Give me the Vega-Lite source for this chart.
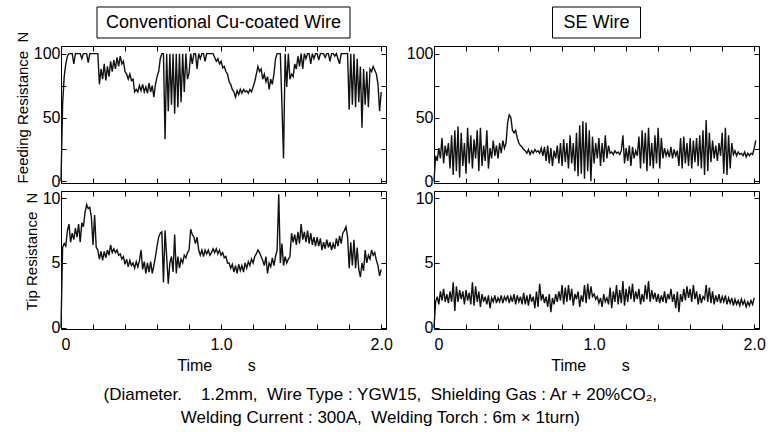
{
  "$schema": "https://vega.github.io/schema/vega-lite/v6.json",
  "padding": {"left": 14, "right": 8, "top": 6, "bottom": 4},
  "background": "white",
  "config": {
    "font": "Liberation Sans",
    "view": {"stroke": "black", "strokeWidth": 1},
    "axis": {
      "grid": false, "domain": false, "tickSize": -5, "tickColor": "black", "tickWidth": 1,
      "labelColor": "black", "labelFontSize": 16, "labelPadding": 6, "labelFont": "Liberation Sans",
      "titleColor": "black", "titleFontSize": 15, "titleFontWeight": "normal", "titleFont": "Liberation Sans", "titlePadding": 3
    }
  },
  "title": {
    "text": ["(Diameter.\u00a0\u00a0\u00a0 1.2mm,\u00a0 Wire Type : YGW15,\u00a0 Shielding Gas : Ar + 20%CO₂,", "Welding Current : 300A,\u00a0 Welding Torch : 6m × 1turn)"],
    "orient": "bottom", "anchor": "middle", "fontSize": 17, "fontWeight": "normal", "color": "black",
    "font": "Liberation Sans", "lineHeight": 23, "offset": 13, "dx": -10
  },
  "datasets": {
    "tl": [{"t":0,"v":0},{"t":0.01,"v":60},{"t":0.02,"v":82},{"t":0.03,"v":92},{"t":0.04,"v":98},{"t":0.05,"v":100},{"t":0.06,"v":100},{"t":0.07,"v":100},{"t":0.08,"v":92},{"t":0.09,"v":100},{"t":0.1,"v":100},{"t":0.11,"v":100},{"t":0.12,"v":100},{"t":0.13,"v":96},{"t":0.14,"v":100},{"t":0.15,"v":100},{"t":0.16,"v":100},{"t":0.17,"v":93},{"t":0.18,"v":100},{"t":0.19,"v":100},{"t":0.2,"v":100},{"t":0.21,"v":100},{"t":0.22,"v":100},{"t":0.23,"v":100},{"t":0.24,"v":76},{"t":0.25,"v":88},{"t":0.26,"v":80},{"t":0.27,"v":92},{"t":0.28,"v":79},{"t":0.29,"v":90},{"t":0.3,"v":82},{"t":0.31,"v":94},{"t":0.32,"v":86},{"t":0.33,"v":95},{"t":0.34,"v":88},{"t":0.35,"v":97},{"t":0.36,"v":90},{"t":0.37,"v":98},{"t":0.38,"v":92},{"t":0.39,"v":94},{"t":0.4,"v":86},{"t":0.41,"v":84},{"t":0.42,"v":80},{"t":0.43,"v":84},{"t":0.44,"v":79},{"t":0.45,"v":80},{"t":0.46,"v":70},{"t":0.47,"v":72},{"t":0.48,"v":70},{"t":0.49,"v":75},{"t":0.5,"v":71},{"t":0.51,"v":76},{"t":0.52,"v":70},{"t":0.53,"v":74},{"t":0.54,"v":69},{"t":0.55,"v":77},{"t":0.56,"v":70},{"t":0.57,"v":75},{"t":0.58,"v":66},{"t":0.59,"v":76},{"t":0.6,"v":82},{"t":0.61,"v":86},{"t":0.62,"v":96},{"t":0.63,"v":100},{"t":0.64,"v":100},{"t":0.65,"v":33},{"t":0.66,"v":100},{"t":0.67,"v":55},{"t":0.68,"v":100},{"t":0.69,"v":60},{"t":0.7,"v":100},{"t":0.71,"v":53},{"t":0.72,"v":100},{"t":0.73,"v":58},{"t":0.74,"v":100},{"t":0.75,"v":62},{"t":0.76,"v":100},{"t":0.77,"v":70},{"t":0.78,"v":100},{"t":0.79,"v":80},{"t":0.8,"v":85},{"t":0.81,"v":100},{"t":0.82,"v":92},{"t":0.83,"v":100},{"t":0.84,"v":100},{"t":0.85,"v":88},{"t":0.86,"v":100},{"t":0.87,"v":96},{"t":0.88,"v":100},{"t":0.89,"v":100},{"t":0.9,"v":94},{"t":0.91,"v":100},{"t":0.92,"v":100},{"t":0.93,"v":100},{"t":0.94,"v":100},{"t":0.95,"v":100},{"t":0.96,"v":97},{"t":0.97,"v":94},{"t":0.98,"v":96},{"t":0.99,"v":92},{"t":1,"v":94},{"t":1.01,"v":89},{"t":1.02,"v":90},{"t":1.03,"v":86},{"t":1.04,"v":84},{"t":1.05,"v":78},{"t":1.06,"v":76},{"t":1.07,"v":72},{"t":1.08,"v":70},{"t":1.09,"v":66},{"t":1.1,"v":71},{"t":1.11,"v":68},{"t":1.12,"v":72},{"t":1.13,"v":69},{"t":1.14,"v":72},{"t":1.15,"v":70},{"t":1.16,"v":71},{"t":1.17,"v":69},{"t":1.18,"v":72},{"t":1.19,"v":70},{"t":1.2,"v":74},{"t":1.21,"v":78},{"t":1.22,"v":84},{"t":1.23,"v":90},{"t":1.24,"v":86},{"t":1.25,"v":88},{"t":1.26,"v":80},{"t":1.27,"v":84},{"t":1.28,"v":78},{"t":1.29,"v":82},{"t":1.3,"v":72},{"t":1.31,"v":80},{"t":1.32,"v":76},{"t":1.33,"v":84},{"t":1.34,"v":96},{"t":1.35,"v":100},{"t":1.36,"v":100},{"t":1.37,"v":100},{"t":1.38,"v":60},{"t":1.39,"v":18},{"t":1.4,"v":100},{"t":1.41,"v":74},{"t":1.42,"v":100},{"t":1.43,"v":80},{"t":1.44,"v":84},{"t":1.45,"v":82},{"t":1.46,"v":92},{"t":1.47,"v":88},{"t":1.48,"v":98},{"t":1.49,"v":90},{"t":1.5,"v":100},{"t":1.51,"v":88},{"t":1.52,"v":100},{"t":1.53,"v":96},{"t":1.54,"v":100},{"t":1.55,"v":100},{"t":1.56,"v":92},{"t":1.57,"v":100},{"t":1.58,"v":96},{"t":1.59,"v":100},{"t":1.6,"v":100},{"t":1.61,"v":95},{"t":1.62,"v":100},{"t":1.63,"v":100},{"t":1.64,"v":100},{"t":1.65,"v":97},{"t":1.66,"v":100},{"t":1.67,"v":100},{"t":1.68,"v":94},{"t":1.69,"v":100},{"t":1.7,"v":100},{"t":1.71,"v":98},{"t":1.72,"v":100},{"t":1.73,"v":96},{"t":1.74,"v":92},{"t":1.75,"v":100},{"t":1.76,"v":100},{"t":1.77,"v":100},{"t":1.78,"v":100},{"t":1.79,"v":100},{"t":1.8,"v":56},{"t":1.81,"v":100},{"t":1.82,"v":60},{"t":1.83,"v":100},{"t":1.84,"v":58},{"t":1.85,"v":96},{"t":1.86,"v":62},{"t":1.87,"v":90},{"t":1.88,"v":42},{"t":1.89,"v":88},{"t":1.9,"v":60},{"t":1.91,"v":86},{"t":1.92,"v":58},{"t":1.93,"v":88},{"t":1.94,"v":86},{"t":1.95,"v":90},{"t":1.96,"v":87},{"t":1.97,"v":84},{"t":1.98,"v":76},{"t":1.99,"v":55},{"t":2,"v":70}],
    "tr": [{"t":0,"v":0},{"t":0.01,"v":20},{"t":0.02,"v":16},{"t":0.03,"v":26},{"t":0.04,"v":18},{"t":0.05,"v":34},{"t":0.06,"v":14},{"t":0.07,"v":28},{"t":0.08,"v":20},{"t":0.09,"v":30},{"t":0.1,"v":10},{"t":0.11,"v":36},{"t":0.12,"v":5},{"t":0.13,"v":40},{"t":0.14,"v":8},{"t":0.15,"v":43},{"t":0.16,"v":3},{"t":0.17,"v":38},{"t":0.18,"v":12},{"t":0.19,"v":30},{"t":0.2,"v":6},{"t":0.21,"v":42},{"t":0.22,"v":14},{"t":0.23,"v":36},{"t":0.24,"v":10},{"t":0.25,"v":33},{"t":0.26,"v":18},{"t":0.27,"v":40},{"t":0.28,"v":8},{"t":0.29,"v":42},{"t":0.3,"v":12},{"t":0.31,"v":28},{"t":0.32,"v":16},{"t":0.33,"v":40},{"t":0.34,"v":10},{"t":0.35,"v":26},{"t":0.36,"v":18},{"t":0.37,"v":32},{"t":0.38,"v":20},{"t":0.39,"v":28},{"t":0.4,"v":18},{"t":0.41,"v":30},{"t":0.42,"v":22},{"t":0.43,"v":32},{"t":0.44,"v":26},{"t":0.45,"v":30},{"t":0.46,"v":46},{"t":0.47,"v":52},{"t":0.48,"v":50},{"t":0.49,"v":40},{"t":0.5,"v":38},{"t":0.51,"v":40},{"t":0.52,"v":34},{"t":0.53,"v":30},{"t":0.54,"v":28},{"t":0.55,"v":27},{"t":0.56,"v":25},{"t":0.57,"v":24},{"t":0.58,"v":22},{"t":0.59,"v":25},{"t":0.6,"v":21},{"t":0.61,"v":24},{"t":0.62,"v":22},{"t":0.63,"v":25},{"t":0.64,"v":23},{"t":0.65,"v":24},{"t":0.66,"v":22},{"t":0.67,"v":26},{"t":0.68,"v":20},{"t":0.69,"v":27},{"t":0.7,"v":16},{"t":0.71,"v":28},{"t":0.72,"v":14},{"t":0.73,"v":26},{"t":0.74,"v":12},{"t":0.75,"v":24},{"t":0.76,"v":18},{"t":0.77,"v":28},{"t":0.78,"v":14},{"t":0.79,"v":30},{"t":0.8,"v":12},{"t":0.81,"v":33},{"t":0.82,"v":15},{"t":0.83,"v":30},{"t":0.84,"v":10},{"t":0.85,"v":36},{"t":0.86,"v":14},{"t":0.87,"v":30},{"t":0.88,"v":8},{"t":0.89,"v":38},{"t":0.9,"v":4},{"t":0.91,"v":44},{"t":0.92,"v":6},{"t":0.93,"v":47},{"t":0.94,"v":2},{"t":0.95,"v":46},{"t":0.96,"v":8},{"t":0.97,"v":40},{"t":0.98,"v":0},{"t":0.99,"v":35},{"t":1,"v":14},{"t":1.01,"v":30},{"t":1.02,"v":18},{"t":1.03,"v":34},{"t":1.04,"v":12},{"t":1.05,"v":30},{"t":1.06,"v":15},{"t":1.07,"v":36},{"t":1.08,"v":18},{"t":1.09,"v":28},{"t":1.1,"v":22},{"t":1.11,"v":23},{"t":1.12,"v":21},{"t":1.13,"v":24},{"t":1.14,"v":22},{"t":1.15,"v":23},{"t":1.16,"v":21},{"t":1.17,"v":24},{"t":1.18,"v":36},{"t":1.19,"v":14},{"t":1.2,"v":26},{"t":1.21,"v":16},{"t":1.22,"v":28},{"t":1.23,"v":12},{"t":1.24,"v":27},{"t":1.25,"v":18},{"t":1.26,"v":24},{"t":1.27,"v":20},{"t":1.28,"v":35},{"t":1.29,"v":10},{"t":1.3,"v":40},{"t":1.31,"v":14},{"t":1.32,"v":38},{"t":1.33,"v":8},{"t":1.34,"v":42},{"t":1.35,"v":12},{"t":1.36,"v":30},{"t":1.37,"v":10},{"t":1.38,"v":36},{"t":1.39,"v":14},{"t":1.4,"v":42},{"t":1.41,"v":10},{"t":1.42,"v":34},{"t":1.43,"v":18},{"t":1.44,"v":26},{"t":1.45,"v":20},{"t":1.46,"v":24},{"t":1.47,"v":19},{"t":1.48,"v":27},{"t":1.49,"v":18},{"t":1.5,"v":25},{"t":1.51,"v":20},{"t":1.52,"v":24},{"t":1.53,"v":12},{"t":1.54,"v":34},{"t":1.55,"v":10},{"t":1.56,"v":35},{"t":1.57,"v":14},{"t":1.58,"v":30},{"t":1.59,"v":12},{"t":1.6,"v":34},{"t":1.61,"v":10},{"t":1.62,"v":32},{"t":1.63,"v":15},{"t":1.64,"v":34},{"t":1.65,"v":12},{"t":1.66,"v":36},{"t":1.67,"v":10},{"t":1.68,"v":40},{"t":1.69,"v":5},{"t":1.7,"v":48},{"t":1.71,"v":8},{"t":1.72,"v":38},{"t":1.73,"v":15},{"t":1.74,"v":32},{"t":1.75,"v":18},{"t":1.76,"v":28},{"t":1.77,"v":16},{"t":1.78,"v":30},{"t":1.79,"v":20},{"t":1.8,"v":38},{"t":1.81,"v":6},{"t":1.82,"v":42},{"t":1.83,"v":5},{"t":1.84,"v":36},{"t":1.85,"v":10},{"t":1.86,"v":30},{"t":1.87,"v":21},{"t":1.88,"v":24},{"t":1.89,"v":20},{"t":1.9,"v":23},{"t":1.91,"v":21},{"t":1.92,"v":22},{"t":1.93,"v":20},{"t":1.94,"v":23},{"t":1.95,"v":19},{"t":1.96,"v":22},{"t":1.97,"v":20},{"t":1.98,"v":22},{"t":1.99,"v":21},{"t":2,"v":26},{"t":2.01,"v":32}],
    "bl": [{"t":0,"v":0},{"t":0.01,"v":6.2},{"t":0.02,"v":6.5},{"t":0.03,"v":6.3},{"t":0.04,"v":7.5},{"t":0.05,"v":8.0},{"t":0.06,"v":6.6},{"t":0.07,"v":7.3},{"t":0.08,"v":6.8},{"t":0.09,"v":7.7},{"t":0.1,"v":7.0},{"t":0.11,"v":8.0},{"t":0.12,"v":6.6},{"t":0.13,"v":8.1},{"t":0.14,"v":7.8},{"t":0.15,"v":8.9},{"t":0.16,"v":9.5},{"t":0.17,"v":9.2},{"t":0.18,"v":9.3},{"t":0.19,"v":8.5},{"t":0.2,"v":6.4},{"t":0.21,"v":8.7},{"t":0.22,"v":6.2},{"t":0.23,"v":6.0},{"t":0.24,"v":5.3},{"t":0.25,"v":5.9},{"t":0.26,"v":5.2},{"t":0.27,"v":5.9},{"t":0.28,"v":5.4},{"t":0.29,"v":6.0},{"t":0.3,"v":5.6},{"t":0.31,"v":6.4},{"t":0.32,"v":5.8},{"t":0.33,"v":6.1},{"t":0.34,"v":5.8},{"t":0.35,"v":6.0},{"t":0.36,"v":5.6},{"t":0.37,"v":5.7},{"t":0.38,"v":5.3},{"t":0.39,"v":5.5},{"t":0.4,"v":4.9},{"t":0.41,"v":5.3},{"t":0.42,"v":4.7},{"t":0.43,"v":5.2},{"t":0.44,"v":4.8},{"t":0.45,"v":5.0},{"t":0.46,"v":4.6},{"t":0.47,"v":5.1},{"t":0.48,"v":4.7},{"t":0.49,"v":5.2},{"t":0.5,"v":6.0},{"t":0.51,"v":4.5},{"t":0.52,"v":5.1},{"t":0.53,"v":4.2},{"t":0.54,"v":5.0},{"t":0.55,"v":4.3},{"t":0.56,"v":5.1},{"t":0.57,"v":4.2},{"t":0.58,"v":4.8},{"t":0.59,"v":5.5},{"t":0.6,"v":6.3},{"t":0.61,"v":7.0},{"t":0.62,"v":7.3},{"t":0.63,"v":7.4},{"t":0.64,"v":3.5},{"t":0.65,"v":7.5},{"t":0.66,"v":5.5},{"t":0.67,"v":3.4},{"t":0.68,"v":5.0},{"t":0.69,"v":5.5},{"t":0.7,"v":4.3},{"t":0.71,"v":7.2},{"t":0.72,"v":4.2},{"t":0.73,"v":5.5},{"t":0.74,"v":4.6},{"t":0.75,"v":5.3},{"t":0.76,"v":5.0},{"t":0.77,"v":5.6},{"t":0.78,"v":5.4},{"t":0.79,"v":5.8},{"t":0.8,"v":6.0},{"t":0.81,"v":7.6},{"t":0.82,"v":7.2},{"t":0.83,"v":7.0},{"t":0.84,"v":6.5},{"t":0.85,"v":7.0},{"t":0.86,"v":6.0},{"t":0.87,"v":5.6},{"t":0.88,"v":6.0},{"t":0.89,"v":5.5},{"t":0.9,"v":6.0},{"t":0.91,"v":5.7},{"t":0.92,"v":6.0},{"t":0.93,"v":5.6},{"t":0.94,"v":5.8},{"t":0.95,"v":6.1},{"t":0.96,"v":5.8},{"t":0.97,"v":6.1},{"t":0.98,"v":5.7},{"t":0.99,"v":6.0},{"t":1,"v":5.6},{"t":1.01,"v":5.8},{"t":1.02,"v":5.4},{"t":1.03,"v":5.5},{"t":1.04,"v":5.0},{"t":1.05,"v":5.0},{"t":1.06,"v":4.6},{"t":1.07,"v":4.9},{"t":1.08,"v":4.3},{"t":1.09,"v":4.8},{"t":1.1,"v":4.2},{"t":1.11,"v":4.9},{"t":1.12,"v":4.4},{"t":1.13,"v":4.8},{"t":1.14,"v":4.3},{"t":1.15,"v":5.0},{"t":1.16,"v":4.6},{"t":1.17,"v":5.1},{"t":1.18,"v":4.8},{"t":1.19,"v":5.3},{"t":1.2,"v":5.0},{"t":1.21,"v":5.5},{"t":1.22,"v":5.7},{"t":1.23,"v":6.0},{"t":1.24,"v":5.8},{"t":1.25,"v":5.5},{"t":1.26,"v":5.2},{"t":1.27,"v":4.8},{"t":1.28,"v":5.5},{"t":1.29,"v":4.2},{"t":1.3,"v":5.0},{"t":1.31,"v":4.7},{"t":1.32,"v":5.4},{"t":1.33,"v":4.8},{"t":1.34,"v":5.5},{"t":1.35,"v":6.0},{"t":1.36,"v":10.3},{"t":1.37,"v":5.0},{"t":1.38,"v":6.5},{"t":1.39,"v":4.8},{"t":1.4,"v":5.5},{"t":1.41,"v":5.0},{"t":1.42,"v":5.3},{"t":1.43,"v":5.5},{"t":1.44,"v":7.3},{"t":1.45,"v":6.6},{"t":1.46,"v":7.2},{"t":1.47,"v":6.4},{"t":1.48,"v":7.4},{"t":1.49,"v":6.5},{"t":1.5,"v":8.0},{"t":1.51,"v":6.8},{"t":1.52,"v":7.4},{"t":1.53,"v":6.6},{"t":1.54,"v":7.5},{"t":1.55,"v":6.5},{"t":1.56,"v":7.3},{"t":1.57,"v":6.4},{"t":1.58,"v":7.0},{"t":1.59,"v":6.3},{"t":1.6,"v":7.0},{"t":1.61,"v":6.3},{"t":1.62,"v":6.9},{"t":1.63,"v":6.0},{"t":1.64,"v":6.6},{"t":1.65,"v":6.1},{"t":1.66,"v":6.8},{"t":1.67,"v":6.2},{"t":1.68,"v":6.6},{"t":1.69,"v":6.0},{"t":1.7,"v":6.5},{"t":1.71,"v":6.1},{"t":1.72,"v":6.9},{"t":1.73,"v":6.3},{"t":1.74,"v":7.1},{"t":1.75,"v":6.5},{"t":1.76,"v":7.3},{"t":1.77,"v":7.5},{"t":1.78,"v":7.8},{"t":1.79,"v":7.0},{"t":1.8,"v":4.6},{"t":1.81,"v":6.6},{"t":1.82,"v":4.8},{"t":1.83,"v":6.8},{"t":1.84,"v":4.6},{"t":1.85,"v":6.2},{"t":1.86,"v":4.5},{"t":1.87,"v":3.9},{"t":1.88,"v":5.0},{"t":1.89,"v":4.4},{"t":1.9,"v":6.0},{"t":1.91,"v":5.0},{"t":1.92,"v":5.6},{"t":1.93,"v":5.3},{"t":1.94,"v":6.0},{"t":1.95,"v":5.6},{"t":1.96,"v":5.8},{"t":1.97,"v":5.2},{"t":1.98,"v":4.8},{"t":1.99,"v":4.0},{"t":2,"v":4.5}],
    "br": [{"t":0,"v":0},{"t":0.01,"v":2.0},{"t":0.02,"v":2.4},{"t":0.03,"v":1.8},{"t":0.04,"v":2.8},{"t":0.05,"v":2.1},{"t":0.06,"v":3.0},{"t":0.07,"v":2.0},{"t":0.08,"v":2.6},{"t":0.09,"v":1.9},{"t":0.1,"v":2.8},{"t":0.11,"v":2.0},{"t":0.12,"v":3.5},{"t":0.13,"v":1.3},{"t":0.14,"v":3.2},{"t":0.15,"v":2.0},{"t":0.16,"v":2.9},{"t":0.17,"v":2.2},{"t":0.18,"v":2.8},{"t":0.19,"v":1.8},{"t":0.2,"v":2.9},{"t":0.21,"v":2.1},{"t":0.22,"v":2.7},{"t":0.23,"v":1.8},{"t":0.24,"v":3.5},{"t":0.25,"v":1.7},{"t":0.26,"v":3.2},{"t":0.27,"v":2.0},{"t":0.28,"v":2.8},{"t":0.29,"v":1.6},{"t":0.3,"v":2.6},{"t":0.31,"v":2.0},{"t":0.32,"v":2.4},{"t":0.33,"v":1.8},{"t":0.34,"v":2.5},{"t":0.35,"v":1.5},{"t":0.36,"v":2.3},{"t":0.37,"v":2.0},{"t":0.38,"v":2.5},{"t":0.39,"v":1.9},{"t":0.4,"v":2.3},{"t":0.41,"v":2.0},{"t":0.42,"v":2.5},{"t":0.43,"v":1.9},{"t":0.44,"v":2.4},{"t":0.45,"v":2.1},{"t":0.46,"v":2.5},{"t":0.47,"v":1.9},{"t":0.48,"v":2.4},{"t":0.49,"v":2.0},{"t":0.5,"v":2.6},{"t":0.51,"v":1.8},{"t":0.52,"v":2.5},{"t":0.53,"v":2.0},{"t":0.54,"v":2.4},{"t":0.55,"v":1.8},{"t":0.56,"v":2.7},{"t":0.57,"v":1.8},{"t":0.58,"v":2.5},{"t":0.59,"v":1.7},{"t":0.6,"v":2.6},{"t":0.61,"v":2.0},{"t":0.62,"v":2.4},{"t":0.63,"v":1.5},{"t":0.64,"v":2.8},{"t":0.65,"v":1.6},{"t":0.66,"v":3.4},{"t":0.67,"v":2.1},{"t":0.68,"v":2.6},{"t":0.69,"v":1.9},{"t":0.7,"v":2.4},{"t":0.71,"v":1.6},{"t":0.72,"v":2.6},{"t":0.73,"v":1.2},{"t":0.74,"v":2.3},{"t":0.75,"v":1.8},{"t":0.76,"v":2.6},{"t":0.77,"v":2.0},{"t":0.78,"v":2.8},{"t":0.79,"v":2.1},{"t":0.8,"v":3.3},{"t":0.81,"v":1.8},{"t":0.82,"v":3.1},{"t":0.83,"v":2.0},{"t":0.84,"v":3.3},{"t":0.85,"v":2.1},{"t":0.86,"v":3.0},{"t":0.87,"v":1.7},{"t":0.88,"v":2.6},{"t":0.89,"v":2.2},{"t":0.9,"v":2.8},{"t":0.91,"v":1.6},{"t":0.92,"v":2.5},{"t":0.93,"v":2.0},{"t":0.94,"v":3.3},{"t":0.95,"v":1.9},{"t":0.96,"v":3.4},{"t":0.97,"v":2.2},{"t":0.98,"v":3.2},{"t":0.99,"v":2.4},{"t":1,"v":2.6},{"t":1.01,"v":2.2},{"t":1.02,"v":2.4},{"t":1.03,"v":1.9},{"t":1.04,"v":2.3},{"t":1.05,"v":1.6},{"t":1.06,"v":2.6},{"t":1.07,"v":2.0},{"t":1.08,"v":2.3},{"t":1.09,"v":1.8},{"t":1.1,"v":3.1},{"t":1.11,"v":1.5},{"t":1.12,"v":2.8},{"t":1.13,"v":2.0},{"t":1.14,"v":3.3},{"t":1.15,"v":1.8},{"t":1.16,"v":2.9},{"t":1.17,"v":1.9},{"t":1.18,"v":3.6},{"t":1.19,"v":1.7},{"t":1.2,"v":3.0},{"t":1.21,"v":2.0},{"t":1.22,"v":3.2},{"t":1.23,"v":2.2},{"t":1.24,"v":3.4},{"t":1.25,"v":2.0},{"t":1.26,"v":2.8},{"t":1.27,"v":2.2},{"t":1.28,"v":3.0},{"t":1.29,"v":1.8},{"t":1.3,"v":2.6},{"t":1.31,"v":2.0},{"t":1.32,"v":3.3},{"t":1.33,"v":2.2},{"t":1.34,"v":3.6},{"t":1.35,"v":2.0},{"t":1.36,"v":2.9},{"t":1.37,"v":2.2},{"t":1.38,"v":2.7},{"t":1.39,"v":2.0},{"t":1.4,"v":2.6},{"t":1.41,"v":1.9},{"t":1.42,"v":2.5},{"t":1.43,"v":2.0},{"t":1.44,"v":2.8},{"t":1.45,"v":1.9},{"t":1.46,"v":2.6},{"t":1.47,"v":2.2},{"t":1.48,"v":3.0},{"t":1.49,"v":2.0},{"t":1.5,"v":2.6},{"t":1.51,"v":1.5},{"t":1.52,"v":2.8},{"t":1.53,"v":1.2},{"t":1.54,"v":2.6},{"t":1.55,"v":2.0},{"t":1.56,"v":3.0},{"t":1.57,"v":2.1},{"t":1.58,"v":3.2},{"t":1.59,"v":2.3},{"t":1.6,"v":3.0},{"t":1.61,"v":2.0},{"t":1.62,"v":3.3},{"t":1.63,"v":2.2},{"t":1.64,"v":2.8},{"t":1.65,"v":1.8},{"t":1.66,"v":2.6},{"t":1.67,"v":1.9},{"t":1.68,"v":2.4},{"t":1.69,"v":2.2},{"t":1.7,"v":3.3},{"t":1.71,"v":2.0},{"t":1.72,"v":3.1},{"t":1.73,"v":1.9},{"t":1.74,"v":2.8},{"t":1.75,"v":1.8},{"t":1.76,"v":2.5},{"t":1.77,"v":2.0},{"t":1.78,"v":2.6},{"t":1.79,"v":1.9},{"t":1.8,"v":2.4},{"t":1.81,"v":2.0},{"t":1.82,"v":2.5},{"t":1.83,"v":1.8},{"t":1.84,"v":2.3},{"t":1.85,"v":1.9},{"t":1.86,"v":2.3},{"t":1.87,"v":1.7},{"t":1.88,"v":2.2},{"t":1.89,"v":1.8},{"t":1.9,"v":2.1},{"t":1.91,"v":1.7},{"t":1.92,"v":2.2},{"t":1.93,"v":1.8},{"t":1.94,"v":2.1},{"t":1.95,"v":1.6},{"t":1.96,"v":2.0},{"t":1.97,"v":1.7},{"t":1.98,"v":2.1},{"t":1.99,"v":1.8},{"t":2,"v":2.3}]
  },
  "bounds": "full",
  "spacing": 12,
  "hconcat": [
    {"bounds": "flush", "center": true, "spacing": 8,
     "vconcat": [
      {"width": 253, "height": 31, "data": {"values": [{}]},
       "layer": [
        {"mark": {"type": "rect", "fill": "white", "stroke": "black", "strokeWidth": 1}, "encoding": {}},
        {"mark": {"type": "text", "text": "Conventional Cu-coated Wire", "fontSize": 18, "font": "Liberation Sans", "color": "black"}, "encoding": {}}
       ]},
      {"width": 325, "height": 137, "data": {"name": "tl"},
       "layer": [
        {"mark": {"type": "line", "color": "#111", "strokeWidth": 1.4},
         "encoding": {
          "x": {"field": "t", "type": "quantitative", "scale": {"domain": [0, 2.03], "nice": false, "zero": false},
                "axis": {"orient": "bottom", "values": [0,0.2,0.4,0.6,0.8,1,1.2,1.4,1.6,1.8,2], "labels": false, "title": null}},
          "y": {"field": "v", "type": "quantitative", "scale": {"domain": [-1.3, 106], "nice": false, "zero": false},
                "axis": {"orient": "left", "values": [0,25,50,75,100], "labelExpr": "datum.value % 50 == 0 ? datum.label : ''", "title": "Feeding Resistance\u00a0\u00a0N", "titleY": 61}}}},
        {"mark": {"type": "line", "opacity": 0},
         "encoding": {
          "x": {"field": "t", "type": "quantitative", "axis": {"orient": "top", "values": [0,0.2,0.4,0.6,0.8,1,1.2,1.4,1.6,1.8,2], "labels": false, "title": null}},
          "y": {"field": "v", "type": "quantitative", "axis": {"orient": "right", "values": [0,25,50,75,100], "labels": false, "title": null}}}}
       ],
       "resolve": {"axis": {"x": "independent", "y": "independent"}}},
      {"width": 325, "height": 138, "data": {"name": "bl"},
       "layer": [
        {"mark": {"type": "line", "color": "#111", "strokeWidth": 1.4},
         "encoding": {
          "x": {"field": "t", "type": "quantitative", "scale": {"domain": [0, 2.03], "nice": false, "zero": false},
                "axis": {"orient": "bottom", "values": [0,0.2,0.4,0.6,0.8,1,1.2,1.4,1.6,1.8,2], "labelExpr": "datum.value == 0 ? '0' : datum.value == 1 ? '1.0' : datum.value == 2 ? '2.0' : ''", "labelPadding": 12, "titlePadding": 5, "title": "Time\u00a0\u00a0\u00a0\u00a0\u00a0\u00a0\u00a0\u00a0s", "titleFontSize": 16, "titleX": 155}},
          "y": {"field": "v", "type": "quantitative", "scale": {"domain": [-0.1, 10.56], "nice": false, "zero": false},
                "axis": {"orient": "left", "values": [0,5,10], "title": "Tip Resistance\u00a0\u00a0N", "titleY": 60}}}},
        {"mark": {"type": "line", "opacity": 0},
         "encoding": {
          "x": {"field": "t", "type": "quantitative", "axis": {"orient": "top", "values": [0,0.2,0.4,0.6,0.8,1,1.2,1.4,1.6,1.8,2], "labels": false, "title": null}},
          "y": {"field": "v", "type": "quantitative", "axis": {"orient": "right", "values": [0,5,10], "labels": false, "title": null}}}}
       ],
       "resolve": {"axis": {"x": "independent", "y": "independent"}}}
     ]},
    {"bounds": "flush", "center": true, "spacing": 8,
     "vconcat": [
      {"width": 88, "height": 31, "data": {"values": [{}]},
       "layer": [
        {"mark": {"type": "rect", "fill": "white", "stroke": "black", "strokeWidth": 1}, "encoding": {}},
        {"mark": {"type": "text", "text": "SE Wire", "fontSize": 18, "font": "Liberation Sans", "color": "black"}, "encoding": {}}
       ]},
      {"width": 325, "height": 137, "data": {"name": "tr"},
       "layer": [
        {"mark": {"type": "line", "color": "#111", "strokeWidth": 1.4},
         "encoding": {
          "x": {"field": "t", "type": "quantitative", "scale": {"domain": [0, 2.03], "nice": false, "zero": false},
                "axis": {"orient": "bottom", "values": [0,0.2,0.4,0.6,0.8,1,1.2,1.4,1.6,1.8,2], "labels": false, "title": null}},
          "y": {"field": "v", "type": "quantitative", "scale": {"domain": [-1.3, 106], "nice": false, "zero": false},
                "axis": {"orient": "left", "values": [0,25,50,75,100], "labelExpr": "datum.value % 50 == 0 ? datum.label : ''", "title": null}}}},
        {"mark": {"type": "line", "opacity": 0},
         "encoding": {
          "x": {"field": "t", "type": "quantitative", "axis": {"orient": "top", "values": [0,0.2,0.4,0.6,0.8,1,1.2,1.4,1.6,1.8,2], "labels": false, "title": null}},
          "y": {"field": "v", "type": "quantitative", "axis": {"orient": "right", "values": [0,25,50,75,100], "labels": false, "title": null}}}}
       ],
       "resolve": {"axis": {"x": "independent", "y": "independent"}}},
      {"width": 325, "height": 138, "data": {"name": "br"},
       "layer": [
        {"mark": {"type": "line", "color": "#111", "strokeWidth": 1.4},
         "encoding": {
          "x": {"field": "t", "type": "quantitative", "scale": {"domain": [0, 2.03], "nice": false, "zero": false},
                "axis": {"orient": "bottom", "values": [0,0.2,0.4,0.6,0.8,1,1.2,1.4,1.6,1.8,2], "labelExpr": "datum.value == 0 ? '0' : datum.value == 1 ? '1.0' : datum.value == 2 ? '2.0' : ''", "labelPadding": 12, "titlePadding": 5, "title": "Time\u00a0\u00a0\u00a0\u00a0\u00a0\u00a0\u00a0\u00a0s", "titleFontSize": 16, "titleX": 156}},
          "y": {"field": "v", "type": "quantitative", "scale": {"domain": [-0.1, 10.56], "nice": false, "zero": false},
                "axis": {"orient": "left", "values": [0,5,10], "title": null}}}},
        {"mark": {"type": "line", "opacity": 0},
         "encoding": {
          "x": {"field": "t", "type": "quantitative", "axis": {"orient": "top", "values": [0,0.2,0.4,0.6,0.8,1,1.2,1.4,1.6,1.8,2], "labels": false, "title": null}},
          "y": {"field": "v", "type": "quantitative", "axis": {"orient": "right", "values": [0,5,10], "labels": false, "title": null}}}}
       ],
       "resolve": {"axis": {"x": "independent", "y": "independent"}}}
     ]}
  ]
}
